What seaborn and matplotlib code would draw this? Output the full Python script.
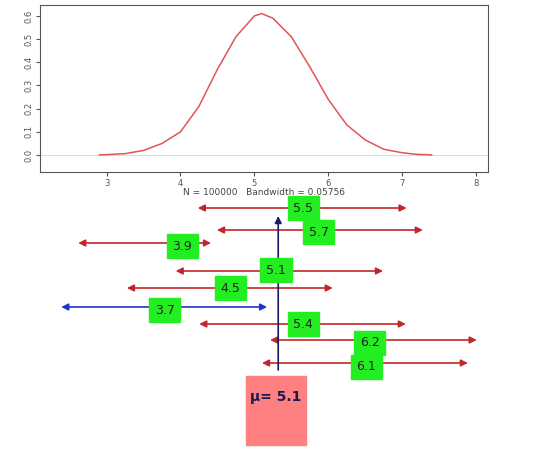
import matplotlib
matplotlib.use("Agg")
import matplotlib.pyplot as plt
import seaborn as sns
import pandas as pd

# density curve
dens_x = [2.9, 3.0, 3.25, 3.5, 3.75, 4.0, 4.25, 4.5, 4.75, 5.0, 5.1, 5.25, 5.5, 5.75, 6.0, 6.25, 6.5, 6.75, 7.0, 7.2, 7.4]
dens_y = [0.001, 0.002, 0.006, 0.02, 0.05, 0.10, 0.21, 0.37, 0.51, 0.60, 0.61, 0.59, 0.51, 0.38, 0.24, 0.13, 0.065, 0.025, 0.01, 0.003, 0.001]

# confidence intervals (bottom panel), in the same x units
ci_labels = ["5.5", "5.7", "3.9", "5.1", "4.5", "3.7", "5.4", "6.2", "6.1"]
ci_low = [4.23, 4.49, 2.61, 3.93, 3.27, 2.38, 4.25, 5.21, 5.10]
ci_high = [7.06, 7.28, 4.41, 6.74, 6.06, 5.17, 7.05, 8.01, 7.89]
ci_row = [208, 230, 243, 271, 288, 307, 324, 340, 363]
lab_x = [5.66, 5.87, 4.02, 5.29, 4.67, 3.78, 5.66, 6.56, 6.51]
lab_y = [208, 232, 246, 270, 288, 310, 324, 343, 367]
ci_color = ["#c0262a"] * 5 + ["#2233cc"] + ["#c0262a"] * 3
mu = 5.32

fig = plt.figure(figsize=(5.39, 4.55), dpi=100)
sns.set_style("white")

# bottom panel: whole-figure axes, y in pixels
ax2 = fig.add_axes([0, 0, 1, 1])
ax2.set_xlim(3 - 107 / 73.8, 3 + (539 - 107) / 73.8)
ax2.set_ylim(455, 0)
ax2.axis("off")

for lo, hi, y, c in zip(ci_low, ci_high, ci_row, ci_color):
    ax2.annotate("", xy=(lo, y), xytext=(hi, y),
                 arrowprops=dict(arrowstyle="<|-|>", color=c, lw=1.2, mutation_scale=10,
                                 shrinkA=0, shrinkB=0))
ax2.annotate("", xy=(mu, 216), xytext=(mu, 370),
             arrowprops=dict(arrowstyle="-|>", color="#1a1a66", lw=1.2, mutation_scale=10,
                             shrinkA=0, shrinkB=0))
for t, x, y in zip(ci_labels, lab_x, lab_y):
    ax2.text(x, y, t, ha="center", va="center", fontsize=9, color="#222222",
             bbox=dict(boxstyle="square,pad=0.45", fc="#22ee22", ec="#22ee22"))

ax2.add_patch(plt.Rectangle((3 + (246 - 107) / 73.8, 376), 60 / 73.8, 69, color="#ff8080", zorder=1))
ax2.text(3 + (276 - 107) / 73.8, 397, "μ= 5.1", ha="center", va="center", fontsize=10,
         fontweight="bold", color="#1a1a55", zorder=2)

# top panel: density plot
ax = fig.add_axes([40 / 539, (455 - 172) / 455, 448 / 539, 167 / 455])
df = pd.DataFrame({"x": dens_x, "y": dens_y})
ax.axhline(0, color="#dddddd", lw=0.8)
sns.lineplot(data=df, x="x", y="y", ax=ax, color="#e05555", lw=1.1)
ax.set_xlim(2.1, 8.16)
ax.set_ylim(-0.073, 0.647)
ax.set_xticks([3, 4, 5, 6, 7, 8])
ax.set_yticks([0.0, 0.1, 0.2, 0.3, 0.4, 0.5, 0.6])
ax.set_yticklabels(["0.0", "0.1", "0.2", "0.3", "0.4", "0.5", "0.6"], rotation=90, va="center")
ax.tick_params(labelsize=6, colors="#555555", length=3, left=True, bottom=True, pad=2)
ax.set_xlabel("N = 100000   Bandwidth = 0.05756", fontsize=6.5, color="#444444", labelpad=0)
ax.set_ylabel("")
for s in ax.spines.values():
    s.set_color("#555555")
    s.set_linewidth(0.8)

fig.savefig("out.png", dpi=100)
